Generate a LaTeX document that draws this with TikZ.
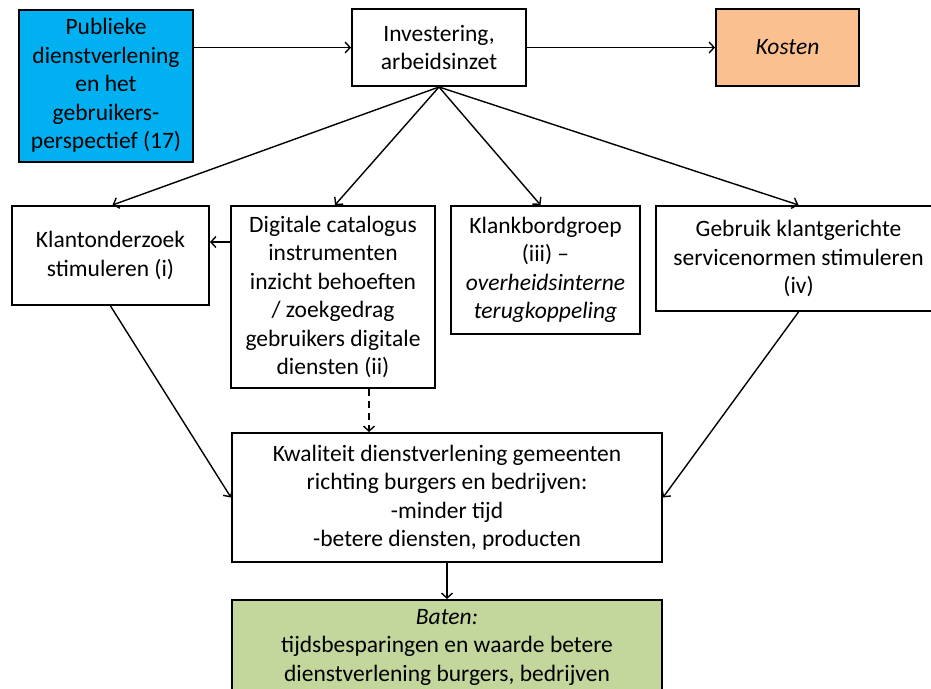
\documentclass[tikz,border=0pt]{standalone}
\usepackage{fontspec}
\setmainfont{Carlito}
\usetikzlibrary{arrows.meta,calc}
\definecolor{cblue}{HTML}{00B0F0}
\definecolor{corange}{HTML}{FAC090}
\definecolor{cgreen}{HTML}{C3D69B}
\tikzset{
  box/.style={draw=black, line width=2pt, rectangle, inner sep=0pt, align=center,
    font=\fontsize{23.5}{28.5}\selectfont},
  arr/.style={line width=1.4pt, -{Straight Barb[length=5pt,width=11pt]}},
  darr/.style={arr, dash pattern=on 7pt off 5pt}
}
\begin{document}
\begin{tikzpicture}[x=1pt,y=-1pt]
\useasboundingbox (0,0) rectangle (931,688);
\clip (0,0) rectangle (931,688);
\node[box, fill=cblue, minimum width=174pt, minimum height=152pt] (pub) at (106,85.5)
  {Publieke\\dienstverlening\\en het\\gebruikers-\\perspectief (17)};
\node[box, fill=white, minimum width=174pt, minimum height=77pt] (inv) at (439,47.5)
  {Investering,\\arbeidsinzet};
\node[box, fill=corange, minimum width=143pt, minimum height=77pt] (kos) at (787.5,47.5)
  {\textit{Kosten}};
\node[box, minimum width=197pt, minimum height=99pt] (kla) at (110.5,255.5)
  {Klantonderzoek\\stimuleren (i)};
\node[box, minimum width=204pt, minimum height=182pt] (dig) at (333,297)
  {Digitale catalogus\\instrumenten\\inzicht behoeften\\/ zoekgedrag\\gebruikers digitale\\diensten (ii)};
\node[box, minimum width=189pt, minimum height=128pt] (kbg) at (545.5,270)
  {Klankbordgroep\\(iii) –\\\textit{overheidsinterne}\\\textit{terugkoppeling}};
\node[box, minimum width=285pt, minimum height=105pt] (geb) at (798.5,258.5)
  {Gebruik klantgerichte\\servicenormen stimuleren\\(iv)};
\node[box, minimum width=430pt, minimum height=129pt] (kwa) at (447,497.5)
  {Kwaliteit dienstverlening gemeenten\\richting burgers en bedrijven:\\-minder tijd\\-betere diensten, producten};
\node[box, fill=cgreen, minimum width=430pt, minimum height=94pt] (bat) at (447,647)
  {\textit{Baten:}\\tijdsbesparingen en waarde betere\\dienstverlening burgers, bedrijven};
\draw[arr] (pub.east |- inv.west) -- (inv.west);
\draw[arr] (inv.east) -- (kos.west);
\draw[arr] (inv.south) -- ($(kla.north)+(2,0)$);
\draw[arr] (inv.south) -- ($(dig.north)+(2,0)$);
\draw[arr] (inv.south) -- ($(kbg.north)+(-5,0)$);
\draw[arr] (inv.south) -- (geb.north);
\coordinate (dl) at ($(dig.north west)+(0,37)$);
\draw[arr] (dl) -- (kla.east |- dl);
\coordinate (ds) at ($(dig.south east)+(-67,0)$);
\draw[darr] (ds) -- (ds |- kwa.north);
\draw[arr] (kla.south) -- (kwa.west);
\draw[arr] (geb.south) -- (kwa.east);
\draw[arr] (kwa.south) -- (bat.north);
\end{tikzpicture}
\end{document}
